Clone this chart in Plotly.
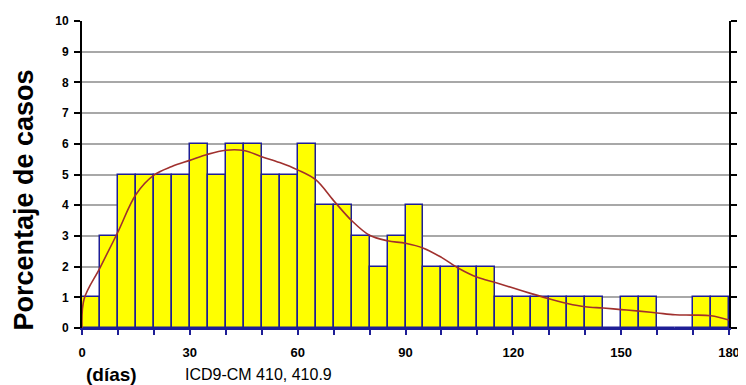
import plotly.graph_objects as go

# Histogram bins (5-day width), 0..180 days
bin_starts = list(range(0, 180, 5))
bin_pct = [1, 3, 5, 5, 5, 5, 6, 5, 6, 6, 5, 5, 6, 4, 4, 3, 2, 3,
           4, 2, 2, 2, 2, 1, 1, 1, 1, 1, 1, 0, 1, 1, 0, 0, 1, 1]
bin_width = 5

# Smoothed curve
curve_days = [0, 0.6, 5, 10, 15, 20, 25, 30, 35, 40, 45, 50, 55, 60, 65, 70, 75, 80,
              85, 90, 95, 100, 105, 110, 115, 120, 125, 130, 135, 140, 145, 150, 155,
              160, 165, 170, 175, 180]
curve_vals = [0.0, 0.95, 1.96, 3.13, 4.35, 4.98, 5.26, 5.46, 5.66, 5.79, 5.78, 5.58, 5.39,
              5.15, 4.83, 4.15, 3.5, 3.02, 2.84, 2.76, 2.6, 2.3, 1.93, 1.65, 1.48, 1.3,
              1.12, 0.95, 0.8, 0.69, 0.65, 0.6, 0.55, 0.49, 0.43, 0.42, 0.4, 0.26]

x_ticks = [0, 30, 60, 90, 120, 150, 180]
y_ticks = list(range(0, 11))
grid_vals = list(range(1, 10))

BLUE = "#1E1E96"
RED = "#A0302E"
FONT = "Liberation Sans Narrow, Arial, sans-serif"

# page body has an 8px default margin: plot area spans page x 82..740, y 15..328
fig = go.Figure()
fig.add_trace(go.Bar(
    x=[s + bin_width / 2 for s in bin_starts], y=bin_pct, width=bin_width,
    marker=dict(color="#FFFF00", line=dict(color=BLUE, width=1.5)),
    showlegend=False, hoverinfo="skip",
))
fig.add_trace(go.Scatter(
    x=curve_days, y=curve_vals, mode="lines",
    line=dict(color=RED, width=1.6, shape="spline", smoothing=1.0),
    showlegend=False, hoverinfo="skip",
))

fig.update_layout(
    width=738, height=377,
    margin=dict(l=74, r=6, t=7, b=57),
    paper_bgcolor="white", plot_bgcolor="white",
    bargap=0,
    xaxis=dict(
        range=[0, 180], tickvals=x_ticks, ticktext=[str(v) for v in x_ticks],
        showgrid=False, zeroline=False,
        showline=True, linecolor=BLUE, linewidth=2,
        ticks="outside", ticklen=5, tickwidth=2, tickcolor=BLUE,
        minor=dict(dtick=10, tick0=0, ticks="outside", ticklen=5, tickwidth=2,
                   tickcolor=BLUE, showgrid=False),
        tickfont=dict(family=FONT, size=13, color="black", weight="bold"),
        ticklabelstandoff=6,
    ),
    yaxis=dict(
        range=[0, 10], tickvals=y_ticks, showgrid=False, zeroline=False,
        showline=True, linecolor="black", linewidth=2, mirror="ticks",
        ticks="outside", ticklen=6, tickwidth=2, tickcolor="black",
        tickfont=dict(family=FONT, size=12, color="black", weight="bold"),
        ticklabelstandoff=3,
    ),
    yaxis2=dict(
        range=[0, 10], overlaying="y", tickvals=grid_vals, showgrid=True,
        gridcolor="#A8A8A8", gridwidth=2, showticklabels=False, showline=False,
        zeroline=False, ticks="",
    ),
)

# empty trace to activate the grid axis
fig.add_trace(go.Scatter(x=[None], y=[None], yaxis="y2", showlegend=False, hoverinfo="skip"))

fig.add_annotation(
    text="<b>Porcentaje de casos</b>", textangle=-90,
    xref="paper", yref="paper", x=(23 - 82) / 658, y=(328 - 197) / 313,
    xanchor="center", yanchor="middle", showarrow=False,
    font=dict(family="Arial, sans-serif", size=27, color="black"),
)
fig.add_annotation(
    text="<b>(días)</b>",
    xref="paper", yref="paper", x=(112 - 82) / 658, y=-(375 - 328) / 313,
    xanchor="center", yanchor="middle", showarrow=False,
    font=dict(family="Arial, sans-serif", size=19, color="black"),
)
fig.add_annotation(
    text="ICD9-CM 410, 410.9",
    xref="paper", yref="paper", x=(262 - 82) / 658, y=-(375 - 328) / 313,
    xanchor="center", yanchor="middle", showarrow=False,
    font=dict(family="Arial, sans-serif", size=16, color="black"),
)

fig.write_html("out.html")
